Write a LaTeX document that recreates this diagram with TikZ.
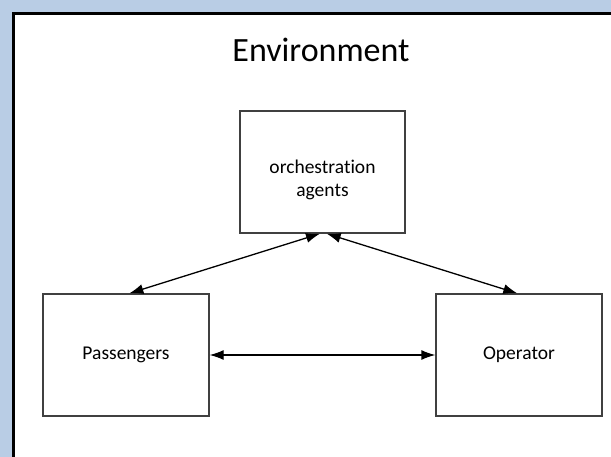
\documentclass[tikz,border=0pt]{standalone}
\usepackage{fontspec}
\setmainfont[Ligatures={NoCommon}]{Carlito}
\usetikzlibrary{arrows.meta,calc}
\definecolor{envblue}{RGB}{185,205,229}
\definecolor{boxline}{RGB}{64,64,64}
\begin{document}
\begin{tikzpicture}[x=1pt,y=-1pt,
  agentbox/.style={draw=boxline,line width=1.3pt,fill=white,rectangle,
    minimum width=166pt,minimum height=122pt,inner sep=0pt,align=center,
    font=\fontsize{19.5}{23}\selectfont},
  boxtext/.style={align=center,inner sep=0pt,font=\fontsize{19.5}{23}\selectfont},
  link/.style={line width=1.3pt,{Latex[length=14pt,width=10pt]}-{Latex[length=14pt,width=10pt]}}]
  % canvas
  \useasboundingbox (0,0) rectangle (611,457);
  \fill[envblue] (0,0) rectangle (611,457);
  % environment frame (continues past the right and bottom edges)
  \draw[line width=3pt,fill=white] (13,14) rectangle (640,480);
  \node[font=\fontsize{34}{38}\selectfont] (env) at (321,50) {Environment};
  % agents
  \node[agentbox,minimum width=165pt] (orch) at (322.5,172) {};
  \node[boxtext] (orchtext) at ($(orch.center)+(0,8)$) {orchestration\\agents};
  \node[agentbox] (pass) at (126,355) {Passengers};
  \node[agentbox] (oper) at (519,355) {Operator};
  % interactions
  \draw[link] ($(orch.south west)!0.485!(orch.south east)$) -- ($(pass.north west)!0.52!(pass.north east)$);
  \draw[link] ($(orch.south west)!0.525!(orch.south east)$) -- ($(oper.north west)!0.49!(oper.north east)$);
  \draw[link] (pass.east) -- (oper.west);
\end{tikzpicture}
\end{document}
